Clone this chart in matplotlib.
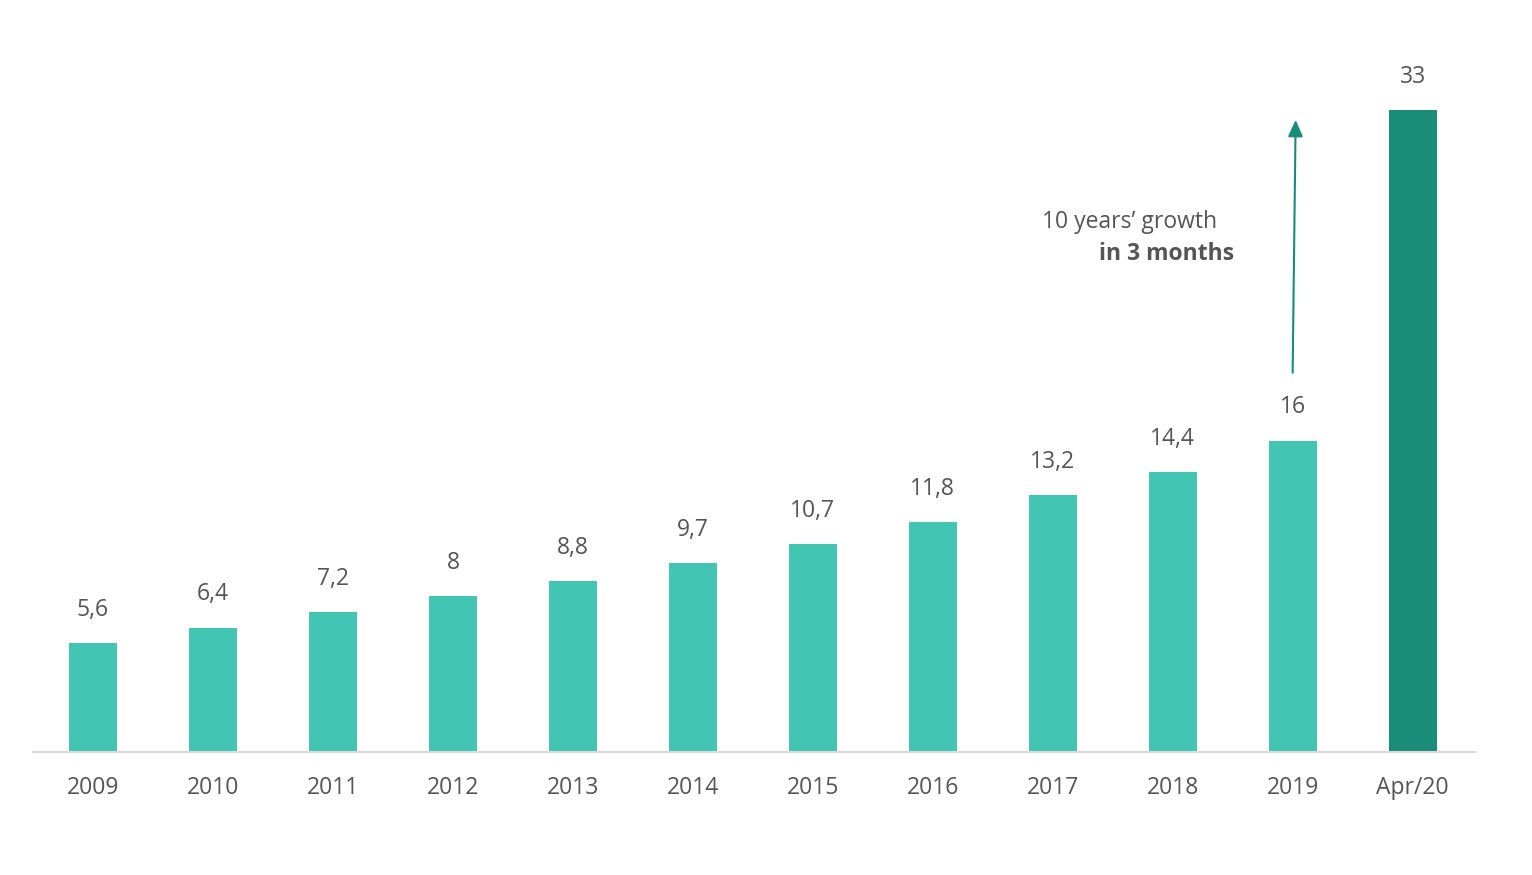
import matplotlib.pyplot as plt
import numpy as np

plt.rcParams['font.family'] = ['Open Sans', 'DejaVu Sans']

years = ['2009', '2010', '2011', '2012', '2013', '2014', '2015', '2016',
         '2017', '2018', '2019', 'Apr/20']
values = [5.6, 6.4, 7.2, 8.0, 8.8, 9.7, 10.7, 11.8, 13.2, 14.4, 16.0, 33.0]
labels = ['5,6', '6,4', '7,2', '8', '8,8', '9,7', '10,7', '11,8', '13,2',
          '14,4', '16', '33']

light = '#42C5B3'
dark = '#1A8C7A'
txt = '#555555'

fig = plt.figure(figsize=(15.32, 8.75), dpi=100)
ax = fig.add_axes([33 / 1532, 123 / 875, (1475 - 33) / 1532, (752 - 40) / 875])

x = np.arange(len(years))
colors = [light] * (len(years) - 1) + [dark]
ax.bar(x, values, width=0.4, color=colors, zorder=2)

for xi, v, lab in zip(x, values, labels):
    ax.annotate(lab, (xi, v), xytext=(0, 24), textcoords='offset points',
                ha='center', va='center', fontsize=16.5, color=txt)

ax.set_xlim(-0.5, 11.52)
ax.set_ylim(0, (752 - 40) / 19.45)
ax.set_xticks(x)
ax.set_xticklabels(years, fontsize=16.5, color=txt)
ax.tick_params(axis='x', length=0, pad=17)
ax.set_yticks([])
for s in ['top', 'right', 'left']:
    ax.spines[s].set_visible(False)
ax.spines['bottom'].set_color('#d9d9d9')
ax.spines['bottom'].set_linewidth(1.5)

# growth arrow
ax.annotate('', xy=(10.025, 32.5), xytext=(10.0, 19.5),
            arrowprops=dict(arrowstyle='-|>,head_width=0.45,head_length=1.0',
                            color=dark, lw=1.5, shrinkA=0, shrinkB=0))
ax.text(8.64, 27.25, '10 years\u2019 growth', ha='center', va='center',
        fontsize=16.5, color=txt)
ax.text(8.95, 25.6, 'in 3 months', ha='center', va='center',
        fontsize=16.5, color=txt, fontweight='bold')

fig.savefig('out.png', dpi=100)
